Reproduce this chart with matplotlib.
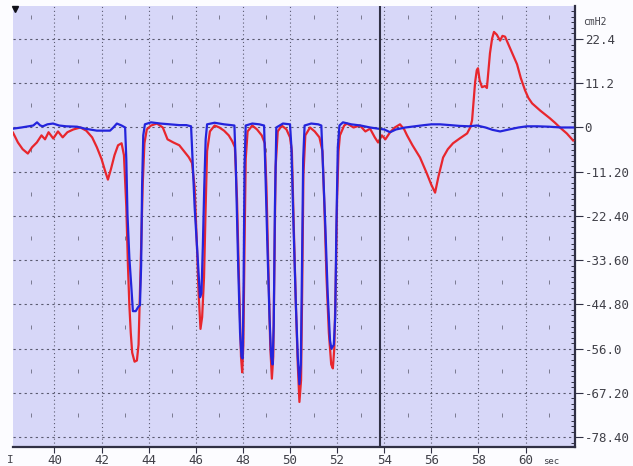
import matplotlib
matplotlib.use('Agg')
import matplotlib.pyplot as plt
from matplotlib.ticker import MultipleLocator

# ---------------- data ----------------
red_t = [38.24, 38.45, 38.65, 38.87, 39.05, 39.25, 39.45, 39.6, 39.75, 39.95, 40.15, 40.35, 40.55, 40.8,
         41.1, 41.35, 41.6, 41.8, 42.0, 42.15, 42.27, 42.4, 42.55, 42.7, 42.85, 42.95, 43.05, 43.12,
         43.18, 43.24, 43.3, 43.4, 43.5, 43.57, 43.63, 43.69, 43.75, 43.82, 43.92, 44.1, 44.35, 44.6, 44.8,
         45.05, 45.3, 45.5, 45.7, 45.84, 45.95, 46.05, 46.12, 46.2, 46.27, 46.35, 46.42, 46.48, 46.6,
         46.8, 47.0, 47.2, 47.4, 47.55, 47.66, 47.75, 47.84, 47.92, 47.97, 48.02, 48.07, 48.12, 48.2,
         48.4, 48.6, 48.8, 48.93, 49.0, 49.08, 49.16, 49.23, 49.29, 49.34, 49.39, 49.48, 49.65, 49.85,
         50.0, 50.08, 50.16, 50.25, 50.33, 50.4, 50.47, 50.52, 50.57, 50.65, 50.85, 51.05, 51.25, 51.38,
         51.46, 51.55, 51.65, 51.75, 51.82, 51.88, 51.94, 52.0, 52.06, 52.12, 52.3, 52.42, 52.7, 52.97,
         53.2, 53.4, 53.6, 53.74, 53.9, 54.05, 54.25, 54.45, 54.67, 54.85, 54.97, 55.2, 55.52, 55.8,
         56.0, 56.16, 56.3, 56.5, 56.7, 56.92, 57.2, 57.52, 57.65, 57.73, 57.8, 57.86, 57.93, 57.98,
         58.05, 58.15, 58.28, 58.36, 58.42, 58.49, 58.58, 58.66, 58.78, 58.92, 59.02, 59.13, 59.24,
         59.34, 59.5, 59.64, 59.8, 59.98, 60.12, 60.28, 60.45, 60.62, 60.85, 61.04, 61.25, 61.46,
         61.75, 62.02]
red_v = [-1.3, -3.8, -5.5, -6.6, -5.0, -3.8, -2.0, -3.0, -1.2, -2.8, -1.0, -2.5, -1.2, -0.5,
         0.0, -0.8, -2.5, -5.0, -8.0, -11.0, -13.2, -10.5, -7.0, -4.5, -4.0, -7.0, -20.0, -35.0,
         -45.0, -52.0, -57.0, -59.3, -59.0, -55.0, -42.0, -28.0, -14.0, -4.0, -0.5, 0.5, 1.0, 0.0, -3.0,
         -3.8, -4.5, -6.0, -7.5, -9.0, -15.0, -30.0, -42.0, -51.0, -48.0, -38.0, -20.0, -6.0, -1.0,
         0.5, 0.0, -0.8, -2.0, -3.5, -5.0, -18.0, -40.0, -58.0, -62.0, -55.0, -30.0, -8.0, -1.0,
         0.5, -0.5, -2.0, -4.0, -15.0, -35.0, -55.0, -63.6, -58.0, -35.0, -10.0, -1.0, 0.5, -0.5,
         -2.5, -6.0, -25.0, -45.0, -60.0, -69.5, -64.0, -40.0, -12.0, -2.0, 0.0, -1.0, -2.5, -6.0,
         -20.0, -38.0, -52.0, -60.0, -61.0, -56.0, -40.0, -18.0, -6.0, -2.0, 0.5, 1.0, 0.0, 0.5,
         -1.0, -0.3, -2.5, -3.8, -2.0, -3.0, -1.2, 0.0, 0.8, -0.5, -2.0, -4.5, -7.6, -11.5,
         -14.5, -16.5, -12.5, -7.6, -5.5, -4.0, -2.8, -1.5, 0.0, 1.8, 7.0, 11.5, 14.5, 15.0,
         12.0, 10.2, 10.5, 10.0, 14.0, 18.8, 22.5, 24.2, 23.5, 22.0, 23.2, 23.0, 21.5,
         20.2, 18.0, 16.0, 12.5, 9.4, 7.5, 6.1, 5.2, 4.3, 3.2, 2.3, 1.2, 0.0,
         -1.5, -3.3]

blue_t = [38.24, 38.6, 38.9, 39.1, 39.26, 39.4, 39.51, 39.7, 39.94, 40.2, 40.5, 40.96, 41.3, 41.8,
          42.1, 42.36, 42.5, 42.65, 42.85, 43.0, 43.05, 43.1, 43.18, 43.26, 43.33, 43.45, 43.55,
          43.63, 43.68, 43.72, 43.77, 43.84, 44.1, 44.5, 44.9, 45.3, 45.6, 45.8, 45.84, 45.95, 46.05,
          46.1, 46.18, 46.24, 46.3, 46.36, 46.42, 46.48, 46.8, 47.2, 47.5, 47.64, 47.7, 47.8, 47.88,
          47.94, 47.99, 48.03, 48.07, 48.12, 48.4, 48.7, 48.9, 48.95, 49.05, 49.13, 49.2, 49.26,
          49.31, 49.36, 49.42, 49.7, 50.0, 50.06, 50.15, 50.25, 50.33, 50.4, 50.46, 50.51, 50.56,
          50.62, 50.9, 51.2, 51.33, 51.4, 51.5, 51.6, 51.7, 51.76, 51.86, 51.92, 51.97, 52.03, 52.1,
          52.25, 52.6, 53.0, 53.4, 53.74, 54.0, 54.25, 54.5, 54.9, 55.3, 55.7, 56.0, 56.37, 56.8,
          57.2, 57.6, 57.94, 58.3, 58.6, 58.92, 59.3, 59.7, 60.06, 60.5, 61.0, 61.5, 62.02]
blue_v = [-0.3, 0.0, 0.3, 0.5, 1.3, 0.5, 0.3, 0.8, 1.0, 0.5, 0.3, 0.2, -0.3, -0.8,
          -0.8, -0.8, 0.0, 1.0, 0.5, 0.0, -8.0, -22.0, -33.0, -40.0, -46.5, -46.5, -45.5,
          -45.0, -35.0, -15.0, -2.0, 0.8, 1.3, 1.0, 0.8, 0.6, 0.6, 0.3, -5.0, -20.0, -30.0,
          -35.0, -43.0, -42.0, -30.0, -15.0, -3.0, 0.8, 1.2, 0.8, 0.6, 0.5, -10.0, -35.0, -52.0,
          -58.0, -58.5, -40.0, -10.0, 0.5, 1.0, 0.8, 0.5, -10.0, -32.0, -48.0, -58.0, -60.0,
          -50.0, -20.0, 0.0, 1.0, 0.8, -5.0, -25.0, -45.0, -58.0, -65.0, -60.0, -35.0, -8.0,
          0.5, 1.0, 0.8, 0.5, -10.0, -25.0, -42.0, -54.0, -56.0, -55.0, -48.0, -25.0, -5.0, 0.5,
          1.3, 0.8, 0.5, 0.0, -0.3, -0.5, -1.2, -0.5, 0.0, 0.3, 0.6, 0.8, 0.8, 0.6,
          0.4, 0.3, 0.5, 0.0, -0.6, -1.0, -0.5, 0.0, 0.3, 0.3, 0.2, 0.0, 0.0]

x_ticks = [40, 42, 44, 46, 48, 50, 52, 54, 56, 58, 60]
x_labels = ['40', '42', '44', '46', '48', '50', '52', '54', '56', '58', '60']
y_ticks = [22.4, 11.2, 0, -11.2, -22.4, -33.6, -44.8, -56.0, -67.2, -78.4]
y_labels = ['22.4', '11.2', '0', '-11.20', '-22.40', '-33.60', '-44.80', '-56.0', '-67.20', '-78.40']
minor_x = [39, 41, 43, 45, 47, 49, 51, 53, 55, 57, 59, 61]
minor_y = [28.0, 16.8, 5.6, -5.6, -16.8, -28.0, -39.2, -50.4, -61.6, -72.8]
cursor_t = 53.8

# ---------------- figure ----------------
W, H = 633, 466
fig = plt.figure(figsize=(W / 100, H / 100), dpi=100, facecolor='#fcfcff')
ax = fig.add_axes([13 / W, 1 - 447 / H, (575 - 13) / W, (447 - 6) / H])
ax.set_facecolor('#d7d7f8')
ax.set_xlim(38.24, 62.1)
ax.set_ylim(-80.9, 30.76)

grid_c = '#5a5a70'
for xv in x_ticks:
    ax.axvline(xv, color=grid_c, lw=0.8, ls=(0, (1, 2.5)), zorder=1)
for yv in y_ticks:
    ax.axhline(yv, color=grid_c, lw=0.8, ls=(0, (2, 3)), zorder=1)
mx = [x for x in minor_x for _ in minor_y]
my = [y for _ in minor_x for y in minor_y]
ax.plot(mx, my, ls='none', marker='|', ms=3, mew=0.7, color='#7a7a90', zorder=1)

ax.plot(red_t, red_v, color='#e8262d', lw=1.6, zorder=3)
ax.plot(blue_t, blue_v, color='#2424dc', lw=1.6, zorder=4)
ax.axvline(cursor_t, color='#303044', lw=1.5, zorder=5)

for s in ['top', 'left']:
    ax.spines[s].set_visible(False)
for s in ['right', 'bottom']:
    ax.spines[s].set_color('#303044')
    ax.spines[s].set_linewidth(1.6)

mono = 'DejaVu Sans Mono'
ax.yaxis.tick_right()
ax.set_yticks(y_ticks)
ax.set_yticklabels(y_labels, fontfamily=mono, fontsize=9, color='#404048')
ax.yaxis.set_minor_locator(MultipleLocator(1.4))
ax.tick_params(axis='y', which='major', direction='out', length=6, width=0.8, pad=1, colors='#303044')
ax.tick_params(axis='y', which='minor', direction='in', length=3, width=0.7, colors='#303044')
ax.tick_params(axis='y', labelcolor='#404048')

ax.set_xticks(x_ticks)
ax.set_xticklabels(x_labels, fontfamily=mono, fontsize=9, color='#404048')
ax.tick_params(axis='x', which='major', direction='out', length=4, width=0.8, pad=1, colors='#303044')
ax.tick_params(axis='x', labelcolor='#404048')

fig.text(543 / W, 1 - 461 / H, 'sec', fontfamily=mono, fontsize=6.5, color='#404048', ha='left', va='center')
fig.text(583 / W, 1 - 22 / H, 'cmH2', fontfamily=mono, fontsize=7, color='#404048', ha='left', va='center')
fig.text(10 / W, 1 - 460 / H, 'I', fontfamily=mono, fontsize=8, color='#404048', ha='center', va='center')
ax.plot([0.004], [0.993], marker='v', ms=4, color='#101018', transform=ax.transAxes, clip_on=False, zorder=6)

fig.savefig('out.png', dpi=100, facecolor=fig.get_facecolor())
